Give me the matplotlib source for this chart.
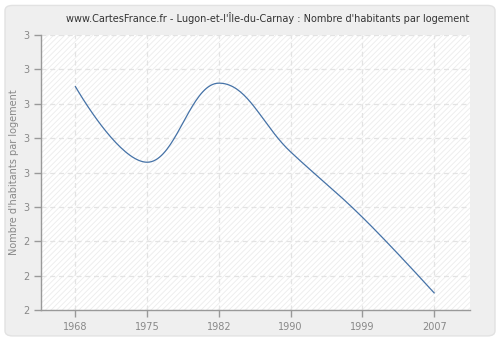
import math
import numpy as np
import matplotlib
matplotlib.use("Agg")
import matplotlib.pyplot as plt
from matplotlib.patches import FancyBboxPatch, Rectangle

years = ["1968", "1975", "1982", "1990", "1999", "2007"]
values = [2.85, 2.63, 2.86, 2.66, 2.47, 2.25]
y_ticks = [2.2, 2.3, 2.4, 2.5, 2.6, 2.7, 2.8, 2.9, 3.0]

title = "www.CartesFrance.fr - Lugon-et-l'Île-du-Carnay : Nombre d'habitants par logement"
ylabel = "Nombre d'habitants par logement"


def spline_path(xs, ys, smoothing=1.5, steps=40):
    # highcharts-like spline: bezier segments with control points
    n = len(xs)
    lc = [None] * n
    rc = [None] * n
    for i in range(1, n - 1):
        px, py = xs[i], ys[i]
        lx, ly = xs[i - 1], ys[i - 1]
        nx, ny = xs[i + 1], ys[i + 1]
        d = smoothing + 1
        lcx, lcy = (smoothing * px + lx) / d, (smoothing * py + ly) / d
        rcx, rcy = (smoothing * px + nx) / d, (smoothing * py + ny) / d
        corr = 0
        if rcx != lcx:
            corr = (rcy - lcy) * (rcx - px) / (rcx - lcx) + py - rcy
        lcy += corr
        rcy += corr
        if lcy > ly and lcy > py:
            lcy = max(ly, py)
            rcy = 2 * py - lcy
        elif lcy < ly and lcy < py:
            lcy = min(ly, py)
            rcy = 2 * py - lcy
        if rcy > ny and rcy > py:
            rcy = max(ny, py)
            lcy = 2 * py - rcy
        elif rcy < ny and rcy < py:
            rcy = min(ny, py)
            lcy = 2 * py - rcy
        lc[i] = (lcx, lcy)
        rc[i] = (rcx, rcy)
    outx, outy = [xs[0]], [ys[0]]
    t = np.linspace(0, 1, steps)[1:]
    for i in range(1, n):
        p0 = (xs[i - 1], ys[i - 1])
        p1 = rc[i - 1] or p0
        p3 = (xs[i], ys[i])
        p2 = lc[i] or p3
        bx = (1 - t) ** 3 * p0[0] + 3 * (1 - t) ** 2 * t * p1[0] + 3 * (1 - t) * t ** 2 * p2[0] + t ** 3 * p3[0]
        by = (1 - t) ** 3 * p0[1] + 3 * (1 - t) ** 2 * t * p1[1] + 3 * (1 - t) * t ** 2 * p2[1] + t ** 3 * p3[1]
        outx.extend(bx)
        outy.extend(by)
    return outx, outy


plt.rcParams["font.family"] = ["DejaVu Sans"]
plt.rcParams["hatch.linewidth"] = 0.6
plt.rcParams["hatch.color"] = "#ebebeb"

fig = plt.figure(figsize=(5, 3.4), dpi=100, facecolor="white")
fig.patches.append(FancyBboxPatch((0.01, 0.012), 0.98, 0.972, boxstyle="round,pad=0,rounding_size=0.015",
                                  transform=fig.transFigure, facecolor="#efefef",
                                  edgecolor="#e2e2e2", linewidth=1, zorder=-5))

ax = fig.add_axes([0.082, 0.088, 0.858, 0.809])
ax.set_zorder(2)
ax.set_facecolor("white")
ax.add_patch(Rectangle((0, 0), 1, 1, transform=ax.transAxes, facecolor="white",
                       hatch="//////", edgecolor="#ececec", linewidth=0, zorder=0))

x = list(range(len(years)))
sx, sy = spline_path(x, values)
ax.plot(sx, sy, color="#4572a7", linewidth=0.9, zorder=3)

ax.set_xlim(-0.48, 5.5)
ax.set_ylim(y_ticks[0], y_ticks[-1])
ax.set_xticks(x)
ax.set_xticklabels(years)
ax.set_yticks(y_ticks)
ax.set_yticklabels([str(int(math.floor(v + 0.5 + 1e-9))) for v in y_ticks])

ax.grid(True, color="#e3e3e3", linestyle=(0, (4, 3)), linewidth=0.9, zorder=1)
ax.set_axisbelow(True)
for s in ["top", "right"]:
    ax.spines[s].set_visible(False)
for s in ["left", "bottom"]:
    ax.spines[s].set_color("#999999")
    ax.spines[s].set_linewidth(1)
ax.tick_params(axis="both", colors="#999999", labelcolor="#888888", labelsize=7, length=5, width=1)

ax.set_ylabel(ylabel, color="#888888", fontsize=7)
ax.yaxis.set_label_coords(-0.052, 0.5)
fig.text(0.536, 0.948, title, ha="center", va="center", fontsize=7, color="#333333")

fig.savefig("out.png", dpi=100, facecolor="white")
